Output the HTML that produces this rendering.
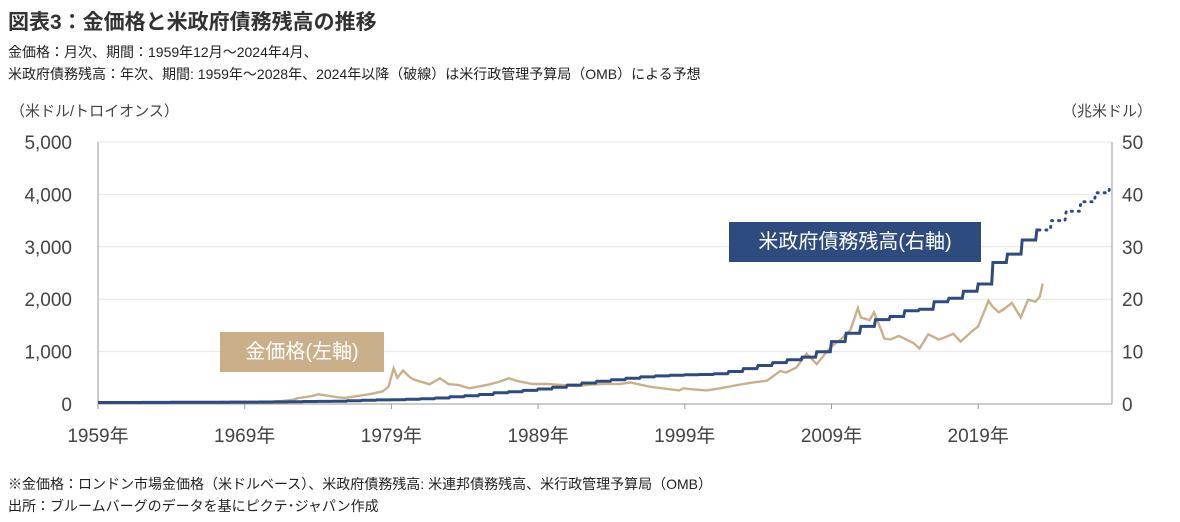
<!DOCTYPE html>
<html><head><meta charset="utf-8">
<style>
body{margin:0;background:#fff;width:1180px;height:522px;overflow:hidden;font-family:"Liberation Sans","Noto Sans CJK JP",sans-serif;color:#222}
.t{position:absolute;white-space:nowrap}
</style></head><body>
<div class="t" style="left:8px;top:6px;font-size:21px;font-weight:bold;color:#333">図表3：金価格と米政府債務残高の推移</div>
<div class="t" style="left:8px;top:42px;font-size:14px">金価格：月次、期間：1959年12月～2024年4月、</div>
<div class="t" style="left:8px;top:64px;font-size:14px">米政府債務残高：年次、期間: 1959年～2028年、2024年以降（破線）は米行政管理予算局（OMB）による予想</div>
<div class="t" style="left:10px;top:100px;font-size:15px;color:#444">（米ドル/トロイオンス）</div>
<div class="t" style="left:1062px;top:100px;font-size:15px;color:#444">（兆米ドル）</div>
<div class="t" style="left:8px;top:474px;font-size:14px">※金価格：ロンドン市場金価格（米ドルベース）、米政府債務残高: 米連邦債務残高、米行政管理予算局（OMB）</div>
<div class="t" style="left:8px;top:496px;font-size:14px">出所：ブルームバーグのデータを基にピクテ･ジャパン作成</div>
<svg id="c" width="1180" height="522" style="position:absolute;left:0;top:0"></svg>
<script>
const xTickYears=[1959,1969,1979,1989,1999,2009,2019];
const leftTicks=[0,1000,2000,3000,4000,5000];
const leftTickLabels=["0","1,000","2,000","3,000","4,000","5,000"];
const rightTicks=[0,10,20,30,40,50];
const debtYears=[1959,1960,1961,1962,1963,1964,1965,1966,1967,1968,1969,1970,1971,1972,1973,1974,1975,1976,1977,1978,1979,1980,1981,1982,1983,1984,1985,1986,1987,1988,1989,1990,1991,1992,1993,1994,1995,1996,1997,1998,1999,2000,2001,2002,2003,2004,2005,2006,2007,2008,2009,2010,2011,2012,2013,2014,2015,2016,2017,2018,2019,2020,2021,2022,2023];
const debtValues=[0.29,0.29,0.29,0.30,0.31,0.32,0.32,0.33,0.34,0.37,0.37,0.38,0.41,0.44,0.47,0.49,0.54,0.63,0.71,0.78,0.83,0.91,1.0,1.14,1.38,1.57,1.82,2.13,2.35,2.6,2.86,3.2,3.6,4.0,4.35,4.64,4.92,5.18,5.37,5.48,5.6,5.63,5.77,6.2,6.76,7.35,7.9,8.45,8.95,9.99,11.9,13.5,14.8,16.1,16.7,17.8,18.1,19.5,20.2,21.5,22.9,27.0,28.6,31.3,33.2];
const forecastYears=[2024,2025,2026,2027,2028];
const forecastValues=[35.0,36.8,38.6,40.3,42.0];
const goldYears=[1959.9,1967.9,1968.5,1969.5,1970.5,1971.5,1972.5,1973.2,1973.5,1974.0,1974.5,1974.9,1975.5,1976.2,1976.7,1977.5,1978.5,1979.3,1979.7,1980.05,1980.3,1980.7,1981.2,1981.5,1982.5,1982.9,1983.2,1983.8,1984.5,1985.2,1985.5,1986.5,1987.2,1987.9,1988.5,1989.5,1990.5,1991.5,1992.5,1993.6,1994.5,1995.5,1996.2,1997.5,1998.5,1999.5,1999.8,2000.5,2001.4,2002.5,2003.5,2004.5,2005.5,2006.4,2006.8,2007.5,2008.2,2008.9,2009.5,2009.9,2010.5,2011.2,2011.7,2011.9,2012.5,2012.8,2013.3,2013.5,2013.9,2014.5,2015.5,2015.9,2016.5,2017.2,2017.5,2018.2,2018.7,2019.5,2019.9,2020.6,2020.9,2021.3,2021.6,2022.2,2022.8,2023.3,2023.8,2024.1,2024.3];
const goldValues=[35,35,40,41,36,41,58,80,110,130,154,185,160,130,115,148,193,240,330,680,500,640,500,460,376,440,490,380,361,300,317,368,420,490,437,381,383,362,344,375,384,384,410,331,294,260,300,279,260,310,363,409,445,630,600,695,960,760,972,1100,1225,1420,1830,1650,1600,1750,1400,1250,1230,1300,1160,1060,1330,1230,1257,1340,1190,1393,1480,1970,1850,1750,1800,1930,1650,1990,1950,2050,2300];
const NS="http://www.w3.org/2000/svg",svg=document.getElementById('c');
const X0=98,X1=1112,Y0=404,Y1=142,PX=14.67;
const xs=y=>X0+(y-1959.9)*PX;
const yl=v=>Y0-v/5000*(Y0-Y1);
const yr=v=>Y0-v/50*(Y0-Y1);
function mk(t,a){const e=document.createElementNS(NS,t);for(const k in a)e.setAttribute(k,a[k]);svg.appendChild(e);return e;}
leftTicks.forEach((v,i)=>{
 if(v>0){const g=mk('line',{x1:X0,x2:X1,y1:yl(v),y2:yl(v),stroke:'#e6e6e6'});
 
 }
 const t=mk('text',{x:72,y:yl(v)+7,'text-anchor':'end','font-size':19,fill:'#444'});t.textContent=leftTickLabels[i];
 
 
});
rightTicks.forEach(v=>{
 const t=mk('text',{x:1122,y:yr(v)+7,'font-size':19,fill:'#444'});t.textContent=v;
 
 
});
const ax=mk('line',{x1:X0,x2:X1,y1:Y0,y2:Y0,stroke:'#999'});


const ra=mk('line',{x1:X1,x2:X1,y1:Y1,y2:Y0,stroke:'#999'});


const la=mk('line',{x1:X0,x2:X0,y1:Y1,y2:Y0,stroke:'#999'});


xTickYears.forEach(y=>{
 const x=xs(y+0.9);
 mk('line',{x1:x,x2:x,y1:Y0,y2:Y0+5,stroke:'#999'});
 const t=mk('text',{x:x,y:442,'text-anchor':'middle','font-size':19,fill:'#444'});t.textContent=y+'年';
 
 
});
let gp=goldYears.map((y,i)=>(i?'L':'M')+xs(y).toFixed(1)+','+yl(goldValues[i]).toFixed(1)).join('');
const gl=mk('path',{d:gp,fill:'none',stroke:'#c9b08a','stroke-width':2.4});


let dp='';debtYears.forEach((y,i)=>{const x=xs(y+0.9),yy=yr(debtValues[i]);
 if(i===0)dp+='M'+X0+','+yy.toFixed(1);else dp+='L'+(x-1.2).toFixed(1)+','+yr(debtValues[i-1]).toFixed(1)+'L'+x.toFixed(1)+','+yy.toFixed(1);});
dp+='H'+(xs(2023.9)+2).toFixed(1);
const dl=mk('path',{d:dp,fill:'none',stroke:'#2e4b80','stroke-width':3});


let prev=debtValues[debtValues.length-1];
let fp='M'+(xs(2023.9)+2).toFixed(1)+','+yr(prev).toFixed(1);
forecastYears.forEach((y,i)=>{const x=Math.min(X1-2,xs(y+0.9));fp+='L'+(x-1.2).toFixed(1)+','+yr(prev).toFixed(1)+'L'+x.toFixed(1)+','+yr(forecastValues[i]).toFixed(1);prev=forecastValues[i];});
const fl=mk('path',{d:fp,fill:'none',stroke:'#2e4b80','stroke-width':3,'stroke-dasharray':'1 6','stroke-linecap':'round'});


</script>
<div class="t" style="left:729px;top:222px;width:252px;height:40px;background:#2e4b80;color:#fff;font-size:20px;line-height:40px;text-align:center">米政府債務残高(右軸)</div>
<div class="t" style="left:220px;top:332px;width:164px;height:40px;background:#c9b08a;color:#fff;font-size:20px;line-height:40px;text-align:center">金価格(左軸)</div>
</body></html>
